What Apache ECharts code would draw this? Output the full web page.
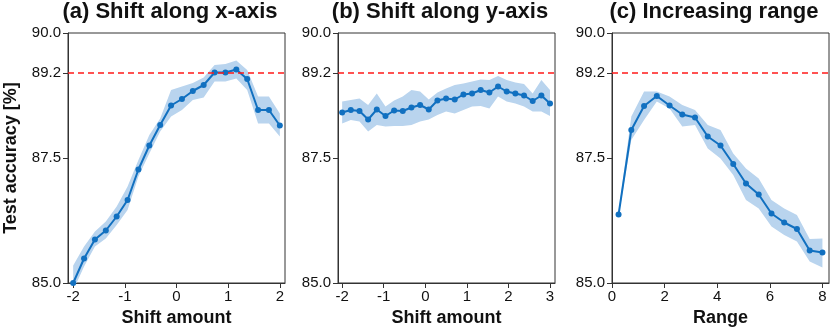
<!DOCTYPE html>
<html>
<head>
<meta charset="utf-8">
<script src="https://cdn.jsdelivr.net/npm/echarts@6/dist/echarts.min.js"></script>
<style>
  html, body { margin: 0; padding: 0; background: #fff; }
  #chart { width: 831px; height: 333px; }
</style>
</head>
<body>
<div id="chart"></div>
<script>
// panel titles / axis names
var titles = ['(a) Shift along x-axis', '(b) Shift along y-axis', '(c) Increasing range'];
var xNames = ['Shift amount', 'Shift amount', 'Range'];
var yTicks = [85, 87.5, 89.2, 90];
var baseline = 89.2;

// (a) shift along x
var xA = [-2, -1.789, -1.579, -1.368, -1.158, -0.947, -0.737, -0.526, -0.316, -0.105,
          0.105, 0.316, 0.526, 0.737, 0.947, 1.158, 1.368, 1.579, 1.789, 2];
var accA = [85.0, 85.49, 85.87, 86.05, 86.33, 86.66, 87.27, 87.75, 88.16, 88.55,
            88.68, 88.84, 88.96, 89.21, 89.21, 89.27, 89.08, 88.46, 88.46, 88.15];
var hiA = [85.35, 85.73, 86.03, 86.23, 86.53, 86.93, 87.46, 87.96, 88.29, 88.86,
           88.93, 89.0, 89.11, 89.36, 89.38, 89.45, 89.26, 88.73, 88.73, 88.39];
var loA = [84.85, 85.33, 85.73, 85.89, 86.16, 86.46, 87.13, 87.59, 88.03, 88.33,
           88.46, 88.66, 88.71, 89.03, 89.03, 89.09, 88.86, 88.19, 88.19, 87.93];
var ticksA = [-2, -1, 0, 1, 2];

// (b) shift along y
var xB = [-2, -1.792, -1.583, -1.375, -1.167, -0.958, -0.75, -0.542, -0.333, -0.125,
          0.083, 0.292, 0.5, 0.708, 0.917, 1.125, 1.333, 1.542, 1.75, 1.958,
          2.167, 2.375, 2.583, 2.792, 3];
var accB = [88.41, 88.46, 88.44, 88.27, 88.47, 88.34, 88.45, 88.44, 88.51, 88.56,
            88.47, 88.65, 88.69, 88.67, 88.77, 88.79, 88.86, 88.81, 88.93, 88.83,
            88.79, 88.75, 88.64, 88.75, 88.59];
var hiB = [88.63, 88.66, 88.69, 88.56, 88.79, 88.53, 88.65, 88.73, 88.86, 88.83,
           88.67, 88.81, 88.89, 88.96, 88.99, 89.03, 89.07, 89.06, 89.14, 89.06,
           89.01, 88.98, 88.79, 89.06, 88.86];
var loB = [88.19, 88.26, 88.23, 88.03, 88.16, 88.13, 88.14, 88.14, 88.16, 88.23,
           88.27, 88.36, 88.43, 88.39, 88.46, 88.53, 88.54, 88.49, 88.73, 88.63,
           88.59, 88.53, 88.43, 88.43, 88.34];
var ticksB = [-2, -1, 0, 1, 2, 3];

// (c) increasing range
var xC = [0.25, 0.734, 1.219, 1.703, 2.188, 2.672, 3.156, 3.641, 4.125, 4.609,
          5.094, 5.578, 6.063, 6.547, 7.031, 7.516, 8];
var accC = [86.37, 88.06, 88.54, 88.74, 88.55, 88.37, 88.31, 87.93, 87.75, 87.38,
            86.99, 86.77, 86.39, 86.21, 86.08, 85.65, 85.61];
var hiC = [86.42, 88.33, 88.83, 88.83, 88.73, 88.56, 88.46, 88.16, 88.06, 87.59,
           87.29, 87.09, 86.66, 86.49, 86.36, 85.88, 85.89];
var loC = [86.33, 87.86, 88.26, 88.63, 88.49, 88.13, 88.16, 87.69, 87.49, 87.16,
           86.66, 86.49, 86.13, 85.96, 85.83, 85.43, 85.31];
var ticksC = [0, 2, 4, 6, 8];

var panels = [
  { x: xA, acc: accA, hi: hiA, lo: loA, ticks: ticksA, min: -2.1, max: 2.1, left: 68 },
  { x: xB, acc: accB, hi: hiB, lo: loB, ticks: ticksB, min: -2.1, max: 3.12, left: 338 },
  { x: xC, acc: accC, hi: hiC, lo: loC, ticks: ticksC, min: 0, max: 8.25, left: 612 }
];

var lineColor = '#1170c0';
var bandColor = '#b9d4ee';
var frame = '#333';
var font = 'Liberation Sans, Arial, sans-serif';

var chart = echarts.init(document.getElementById('chart'));

var grids = [], xAxes = [], yAxes = [], series = [], titleList = [];
panels.forEach(function (p, i) {
  grids.push({ left: p.left, top: 33, width: 217, height: 250, show: true,
               borderColor: frame, borderWidth: 1, backgroundColor: 'transparent' });
  titleList.push({ text: titles[i], left: p.left + 102, top: 1, textAlign: 'center', padding: 0,
                   textStyle: { fontFamily: font, fontSize: 22, fontWeight: 'bold', color: '#111' } });
  xAxes.push({
    type: 'value', gridIndex: i, min: p.min, max: p.max,
    name: xNames[i], nameLocation: 'middle', nameGap: 26,
    nameTextStyle: { fontFamily: font, fontSize: 18, fontWeight: 'bold', color: '#111' },
    axisLine: { show: true, onZero: false, lineStyle: { color: frame, width: 1 } },
    axisTick: { show: true, length: 5, customValues: p.ticks, lineStyle: { color: frame } },
    axisLabel: { customValues: p.ticks, margin: 6, fontFamily: font, fontSize: 15, color: '#111',
                 formatter: function (v) { return String(v); } },
    splitLine: { show: false }
  });
  yAxes.push({
    type: 'value', gridIndex: i, min: 85, max: 90,
    name: i === 0 ? 'Test accuracy [%]' : '', nameLocation: 'middle', nameGap: 48,
    nameTextStyle: { fontFamily: font, fontSize: 18, fontWeight: 'bold', color: '#111' },
    axisLine: { show: true, onZero: false, lineStyle: { color: frame, width: 1 } },
    axisTick: { show: true, length: 5, customValues: yTicks, lineStyle: { color: frame } },
    axisLabel: { customValues: yTicks, margin: 7, fontFamily: font, fontSize: 15, color: '#111',
                 formatter: function (v) { return v.toFixed(1); } },
    splitLine: { show: false }
  });
  series.push({
    type: 'custom', xAxisIndex: i, yAxisIndex: i, silent: true, clip: true, z: 1,
    data: p.x.map(function (x, k) { return [x, p.lo[k], p.hi[k]]; }),
    encode: { x: 0, y: [1, 2] },
    renderItem: function (params, api) {
      if (params.dataIndex !== 0) return;
      var pts = [];
      for (var k = 0; k < p.x.length; k++) pts.push(api.coord([p.x[k], p.hi[k]]));
      for (var k = p.x.length - 1; k >= 0; k--) pts.push(api.coord([p.x[k], p.lo[k]]));
      return { type: 'polygon', shape: { points: pts }, style: { fill: bandColor } };
    }
  });
  series.push({
    type: 'line', xAxisIndex: i, yAxisIndex: i, z: 3,
    data: p.x.map(function (x, k) { return [x, p.acc[k]]; }),
    symbol: 'circle', symbolSize: 6, clip: false,
    lineStyle: { color: lineColor, width: 2 },
    itemStyle: { color: lineColor },
    markLine: {
      silent: true, symbol: 'none', label: { show: false },
      lineStyle: { color: '#ff1a1a', width: 1.5, type: [6, 4] },
      data: [{ yAxis: baseline }]
    }
  });
});

chart.setOption({
  animation: false,
  title: titleList,
  grid: grids,
  xAxis: xAxes,
  yAxis: yAxes,
  series: series
});
</script>
</body>
</html>
